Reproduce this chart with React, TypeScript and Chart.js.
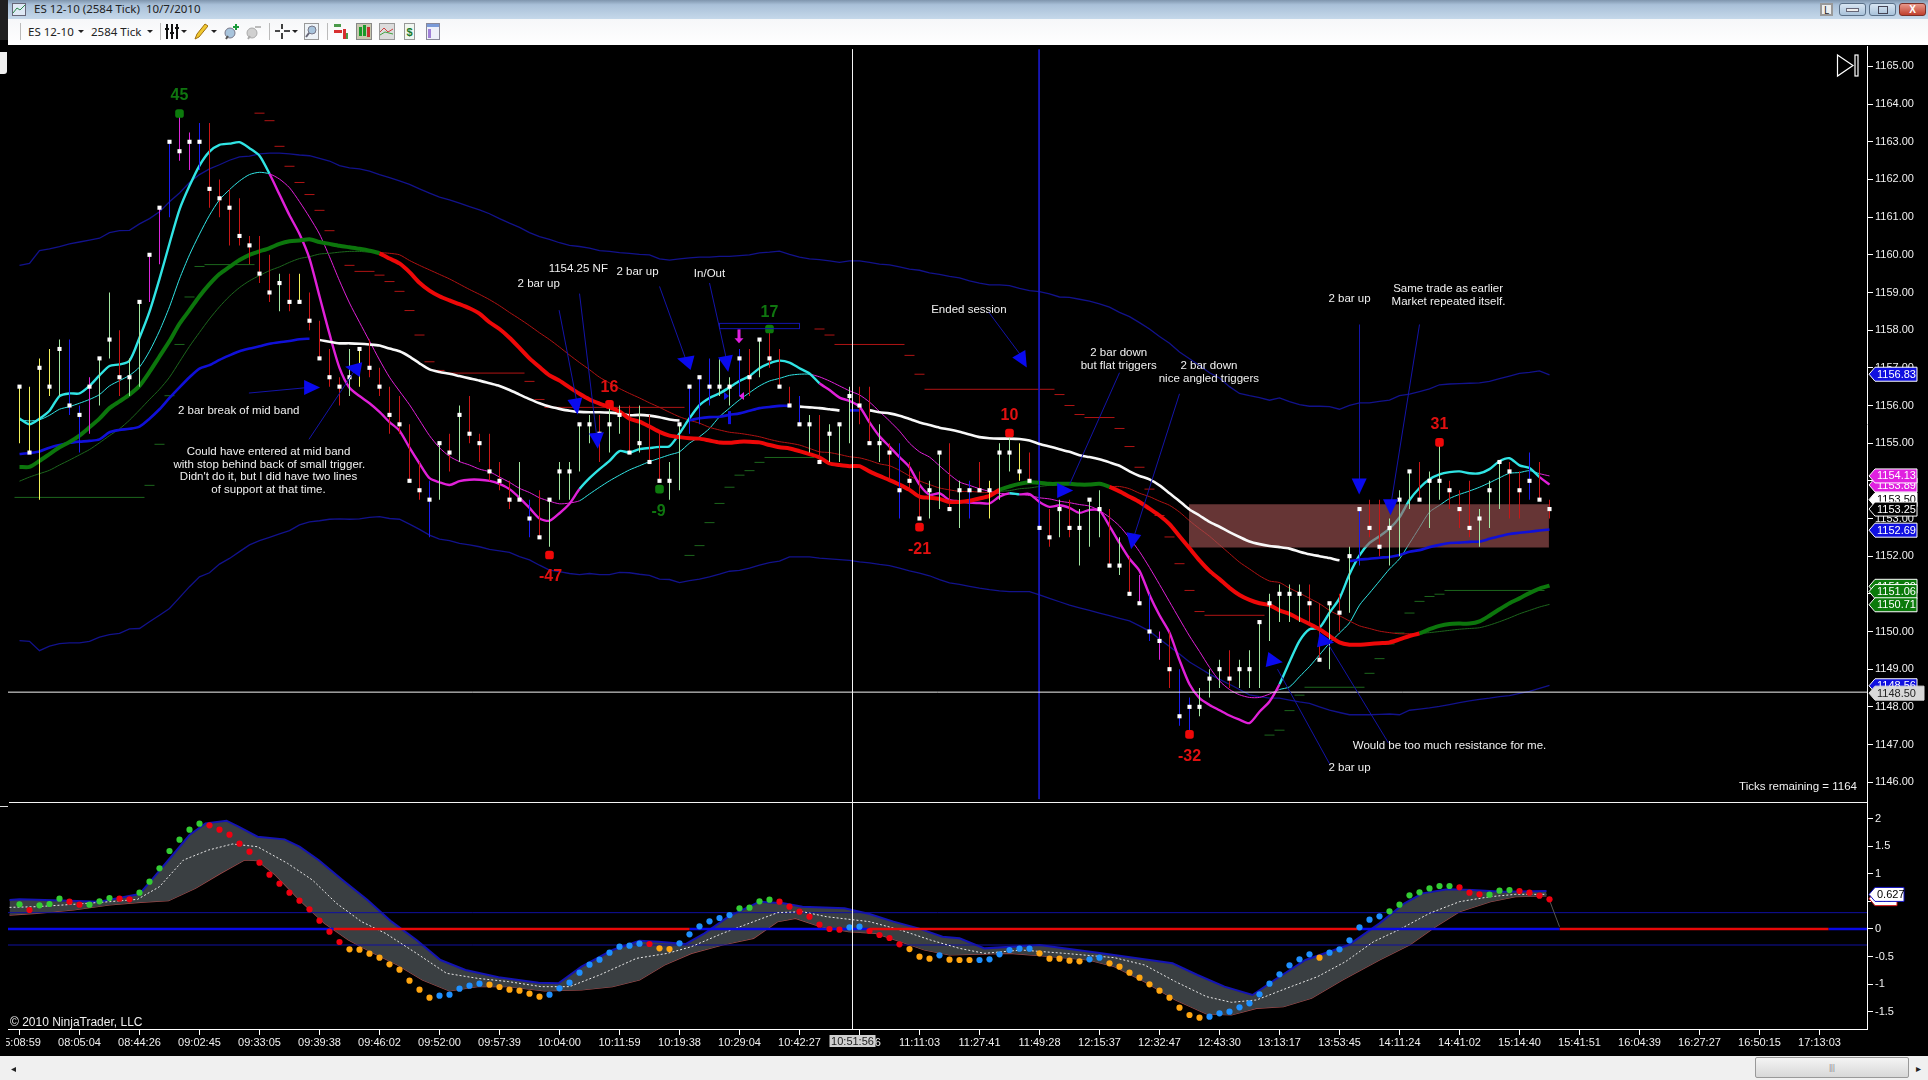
import React, { useEffect, useRef } from "react";
import { Chart, registerables } from "chart.js";

Chart.register(...registerables);

const timeLabels = ["15:08:59","08:05:04","08:44:26","09:02:45","09:33:05","09:39:38","09:46:02","09:52:00","09:57:39","10:04:00","10:11:59","10:19:38","10:29:04","10:42:27","10:51:56","11:11:03","11:27:41","11:49:28","12:15:37","12:32:47","12:43:30","13:13:17","13:53:45","14:11:24","14:41:02","15:14:40","15:41:51","16:04:39","16:27:27","16:50:15","17:13:03"];

const highs = [1156.5,1156.5,1157.25,1157.5,1157.75,1157.75,1156,1156.75,1157.25,1159,1158,1157.25,1158.75,1160,1161.25,1163,1163.75,1163.25,1163.5,1163.5,1162,1161.75,1161.5,1160.5,1160.5,1160,1159.5,1159.5,1159.5,1159,1158.25,1157.5,1156.75,1157.5,1157.5,1157.75,1157,1156.5,1156.25,1155.5,1154.5,1154,1155,1155.25,1156,1156.25,1155.25,1155.25,1154.5,1154,1154.5,1153.5,1153.75,1153.5,1154.5,1154.5,1155.5,1155.75,1155.75,1156,1156,1156,1156,1155.75,1155.25,1154.5,1155.5,1156.5,1156.75,1157.25,1157.25,1156.75,1157.5,1157.5,1157.75,1158,1157.5,1156.5,1156.25,1155.75,1155.75,1155.5,1155.5,1156.5,1156.5,1156.5,1155.5,1155,1155,1154.5,1154.25,1154,1154.75,1155,1154,1154,1154.5,1154,1155,1155.25,1155,1154.75,1154,1153.25,1153.5,1153.5,1153.25,1153.5,1153.75,1153.25,1152.5,1152,1151.5,1151,1150,1150,1149,1148.25,1148.5,1149,1149.25,1149.5,1149.25,1149.5,1150.25,1151,1151.25,1151.25,1151.25,1151.25,1150.75,1150.75,1151,1152.25,1153.25,1153.5,1153.5,1153,1153.75,1154.25,1154.5,1154.25,1155,1154,1153.75,1154,1153.25,1154,1154.5,1154.5,1154.25,1154.75,1154.5,1153.5];
const lows = [1155,1154.75,1153.5,1156.25,1156.25,1155.75,1154.75,1155.25,1156,1157.25,1156.25,1156.25,1156.5,1158.75,1159.75,1161,1162.5,1162.25,1162.25,1161.25,1161,1160.25,1160.25,1159.75,1159.25,1158.75,1158.5,1158.5,1158.75,1158,1157.25,1156.5,1156,1156.25,1156.5,1156.75,1156.25,1155.25,1155.25,1154,1153.5,1152.5,1153.5,1154.25,1154.5,1155,1154.5,1154,1153.75,1153.25,1153.5,1152.5,1152.5,1152.25,1153.5,1153.5,1154.25,1155,1154.5,1154.75,1155.25,1154.75,1154.75,1154.5,1154,1153.5,1153.75,1155.25,1155.5,1156,1156.25,1156,1156.25,1156.25,1156.75,1157,1156.5,1156,1155.5,1154.75,1154.5,1154.5,1154.5,1155,1155.5,1155,1154.5,1154,1153,1153.75,1153,1153,1153.25,1153.25,1152.75,1153,1153.75,1153,1153.5,1154.25,1154,1154,1152.75,1152.25,1152.5,1152.5,1151.75,1152.25,1152.5,1151.75,1151.5,1151,1150.75,1149.75,1149.25,1148.5,1147.5,1147.25,1147.75,1148.25,1148.5,1148.5,1148.5,1148.5,1148.5,1149.75,1150.25,1150.25,1150.25,1150.25,1149.25,1149,1150,1150.5,1151.75,1152.5,1152,1151.75,1152,1153.25,1153.5,1152.75,1153.5,1153.25,1152.75,1152.5,1152.25,1152.75,1153.25,1153,1153,1153.5,1153.5,1153];
const closes = [1156.5,1154.75,1157,1156.5,1157.5,1156,1155.75,1156.5,1157.25,1157.75,1156.75,1156.75,1158.75,1160,1161.25,1163,1162.75,1163,1163,1161.75,1161.5,1161.25,1160.5,1160.25,1159.5,1159,1159.25,1158.75,1158.75,1158.25,1157.25,1156.75,1156.5,1156.75,1157.5,1157,1156.5,1155.75,1155.5,1154,1153.75,1153.5,1155,1154.75,1155.75,1155.25,1155,1154.25,1154,1153.5,1153.5,1153,1152.5,1153.5,1154.25,1154.25,1155.5,1155.5,1155.25,1155.5,1155.75,1154.75,1155,1154.5,1154,1154,1155.5,1156.5,1156.75,1156.5,1156.5,1156.5,1157.25,1156.75,1157.75,1157.25,1156.5,1156,1155.5,1155.5,1154.5,1155.25,1155.5,1156.25,1156,1155,1155,1154.75,1153.75,1154,1153,1153.75,1154.75,1153.25,1153.75,1153.75,1153.75,1153.75,1154.75,1154.75,1154.25,1154,1152.75,1152.5,1153.25,1152.75,1152.75,1153.5,1153.25,1151.75,1151.75,1151,1150.75,1150,1149.75,1149,1147.75,1148,1148,1148.75,1149,1148.75,1149,1149,1150.25,1150.75,1151,1151,1151,1150.75,1149.25,1150.75,1150.5,1152,1153.25,1152.75,1152.25,1152.75,1153.5,1154.25,1153.5,1154,1154,1153.75,1153.25,1152.75,1153,1153.75,1154.5,1154.25,1153.75,1154,1153.5,1153.25];
const wickKinds = ["yyyygbbmgg","rggmmbmmbr","rrrrrrgryr","rrrgyrrrrr","rbgrgrrrrr","gbrgggggrg","grgrrggbbb","ggbrgrrrbg","rgggrrgrbr","rggrgbrygg","yrbrgrgggr","grmbmrbbgg","grgggggggr","rgrgbrrggg","rggrrrgggr","rbrr"].join("");
const wickColors: Record<string, string> = { y: "#f2f25a", g: "#a2e8a2", b: "#1c1cf0", m: "#dc28dc", r: "#c81616" };

const fastLine = [1155.65,1155.5,1155.65,1155.86,1156.25,1156.32,1156.32,1156.52,1156.8,1157.05,1157.09,1157.19,1157.8,1158.49,1159.36,1160.3,1161.2,1161.83,1162.37,1162.74,1162.92,1162.95,1162.99,1162.83,1162.63,1162.15,1161.6,1161.05,1160.55,1159.9,1158.9,1157.9,1157,1156.47,1156.25,1156.06,1155.83,1155.56,1155.33,1154.88,1154.46,1154.07,1153.96,1153.89,1153.99,1154.03,1154.03,1154,1153.92,1153.78,1153.55,1153.28,1153,1152.94,1153.14,1153.39,1153.78,1154.07,1154.31,1154.53,1154.79,1154.75,1154.84,1154.87,1154.9,1154.92,1155.26,1155.66,1156.01,1156.2,1156.32,1156.48,1156.65,1156.78,1156.99,1157.12,1157.19,1157.14,1156.99,1156.85,1156.59,1156.41,1156.21,1156.12,1155.97,1155.55,1155.18,1154.91,1154.63,1154.36,1153.9,1153.63,1153.67,1153.49,1153.46,1153.42,1153.41,1153.4,1153.58,1153.67,1153.64,1153.65,1153.44,1153.31,1153.35,1153.28,1153.15,1153.23,1153.21,1152.8,1152.35,1151.93,1151.61,1150.97,1150.43,1149.97,1149.24,1148.6,1148.23,1148.05,1147.91,1147.77,1147.66,1147.57,1147.87,1148.14,1148.6,1149.19,1149.75,1150.06,1150.1,1150.5,1150.88,1151.52,1152.02,1152.35,1152.53,1152.73,1153.03,1153.49,1153.81,1154.04,1154.17,1154.23,1154.25,1154.2,1154.2,1154.31,1154.52,1154.6,1154.41,1154.34,1154.1,1153.9];
const signalLine = [1155.62,1155.59,1155.62,1155.74,1155.9,1155.97,1156.06,1156.16,1156.29,1156.52,1156.66,1156.8,1157.02,1157.44,1157.98,1158.62,1159.36,1160,1160.55,1161.05,1161.46,1161.73,1161.96,1162.13,1162.19,1162.15,1162.01,1161.78,1161.41,1161,1160.55,1159.95,1159.31,1158.72,1158.21,1157.71,1157.21,1156.75,1156.38,1156.02,1155.61,1155.2,1154.88,1154.65,1154.51,1154.42,1154.31,1154.24,1154.1,1153.96,1153.8,1153.69,1153.55,1153.46,1153.39,1153.41,1153.47,1153.65,1153.83,1154,1154.15,1154.29,1154.4,1154.51,1154.6,1154.69,1154.77,1155,1155.17,1155.39,1155.7,1155.93,1156.15,1156.34,1156.52,1156.65,1156.72,1156.8,1156.83,1156.83,1156.76,1156.65,1156.52,1156.39,1156.28,1156.09,1155.84,1155.59,1155.32,1155,1154.77,1154.63,1154.4,1154.17,1153.97,1153.88,1153.79,1153.72,1153.67,1153.65,1153.64,1153.61,1153.55,1153.52,1153.46,1153.42,1153.37,1153.33,1153.21,1153.03,1152.8,1152.48,1152.12,1151.7,1151.25,1150.79,1150.33,1149.88,1149.47,1149.05,1148.69,1148.46,1148.32,1148.25,1148.25,1148.34,1148.46,1148.53,1148.8,1149.07,1149.38,1149.69,1149.96,1150.23,1150.7,1151.02,1151.34,1151.66,1151.93,1152.34,1152.76,1153.17,1153.35,1153.53,1153.64,1153.73,1153.83,1153.95,1154.08,1154.2,1154.22,1154.27,1154.19,1154.13];
const midLine = [1154.71,1154.74,1154.78,1154.88,1154.95,1155.01,1155.04,1155.06,1155.1,1155.29,1155.35,1155.38,1155.44,1155.65,1155.9,1156.2,1156.48,1156.75,1156.98,1157.07,1157.21,1157.33,1157.44,1157.51,1157.57,1157.64,1157.68,1157.71,1157.76,1157.77,1157.74,1157.69,1157.65,1157.65,1157.64,1157.62,1157.59,1157.51,1157.44,1157.3,1157.12,1156.96,1156.89,1156.84,1156.78,1156.72,1156.66,1156.59,1156.52,1156.41,1156.29,1156.17,1156.06,1155.97,1155.91,1155.86,1155.83,1155.82,1155.82,1155.81,1155.79,1155.74,1155.75,1155.73,1155.69,1155.63,1155.6,1155.61,1155.66,1155.69,1155.7,1155.75,1155.79,1155.86,1155.93,1155.96,1155.99,1155.99,1155.97,1155.95,1155.93,1155.9,1155.87,1155.87,1155.87,1155.87,1155.82,1155.79,1155.73,1155.64,1155.55,1155.48,1155.41,1155.36,1155.3,1155.23,1155.16,1155.13,1155.12,1155.12,1155.11,1155.07,1154.98,1154.91,1154.84,1154.77,1154.68,1154.63,1154.57,1154.49,1154.4,1154.25,1154.13,1154.04,1153.88,1153.67,1153.46,1153.24,1153.08,1152.91,1152.78,1152.64,1152.51,1152.39,1152.32,1152.27,1152.24,1152.2,1152.12,1152.05,1152,1151.95,1151.89,1151.87,1151.91,1151.93,1151.96,1151.98,1152.03,1152.12,1152.16,1152.24,1152.3,1152.35,1152.36,1152.38,1152.39,1152.46,1152.53,1152.59,1152.62,1152.65,1152.68,1152.71];
const slowLine = [1154.37,1154.37,1154.53,1154.71,1154.89,1155.03,1155.2,1155.42,1155.65,1155.93,1156.11,1156.29,1156.52,1156.89,1157.3,1157.71,1158.17,1158.53,1158.9,1159.22,1159.49,1159.68,1159.86,1160,1160.09,1160.18,1160.29,1160.36,1160.38,1160.41,1160.34,1160.29,1160.24,1160.2,1160.16,1160.11,1160.04,1159.9,1159.77,1159.54,1159.26,1159.05,1158.9,1158.79,1158.69,1158.58,1158.44,1158.21,1158.03,1157.8,1157.53,1157.25,1157.02,1156.8,1156.66,1156.48,1156.31,1156.16,1156.05,1155.95,1155.84,1155.65,1155.57,1155.44,1155.3,1155.2,1155.16,1155.13,1155.12,1155.07,1155.02,1155.01,1155.04,1155.04,1155.02,1154.95,1154.89,1154.86,1154.79,1154.71,1154.62,1154.46,1154.42,1154.39,1154.39,1154.25,1154.13,1154.02,1153.9,1153.76,1153.58,1153.55,1153.52,1153.44,1153.44,1153.47,1153.53,1153.6,1153.76,1153.85,1153.92,1153.96,1153.95,1153.92,1153.92,1153.92,1153.9,1153.9,1153.92,1153.84,1153.72,1153.58,1153.44,1153.26,1153.08,1152.85,1152.53,1152.21,1151.89,1151.61,1151.39,1151.16,1150.97,1150.84,1150.75,1150.7,1150.56,1150.47,1150.33,1150.2,1150.06,1149.88,1149.71,1149.65,1149.65,1149.67,1149.69,1149.71,1149.79,1149.88,1149.95,1150.06,1150.15,1150.2,1150.21,1150.21,1150.27,1150.42,1150.59,1150.75,1150.88,1151.02,1151.14,1151.22];
const slowThinLine = [1153.99,1154.1,1154.19,1154.28,1154.42,1154.55,1154.69,1154.83,1155.01,1155.2,1155.38,1155.61,1155.88,1156.16,1156.43,1156.75,1157.16,1157.57,1157.94,1158.3,1158.62,1158.9,1159.13,1159.31,1159.45,1159.58,1159.68,1159.8,1159.9,1159.95,1160.02,1160.04,1160.07,1160.09,1160.09,1160.07,1160.06,1160.04,1160,1159.85,1159.72,1159.6,1159.48,1159.36,1159.22,1159.08,1158.95,1158.81,1158.65,1158.47,1158.3,1158.12,1157.93,1157.75,1157.55,1157.34,1157.14,1156.95,1156.75,1156.6,1156.45,1156.32,1156.2,1156.07,1155.95,1155.82,1155.7,1155.61,1155.53,1155.42,1155.35,1155.29,1155.26,1155.22,1155.17,1155.1,1155.04,1155,1154.95,1154.86,1154.77,1154.75,1154.7,1154.64,1154.61,1154.54,1154.45,1154.4,1154.28,1154.13,1154,1153.9,1153.81,1153.76,1153.72,1153.72,1153.7,1153.69,1153.72,1153.74,1153.79,1153.81,1153.85,1153.88,1153.9,1153.92,1153.93,1153.93,1153.92,1153.85,1153.85,1153.79,1153.67,1153.58,1153.46,1153.35,1153.17,1152.94,1152.73,1152.53,1152.3,1152.07,1151.84,1151.66,1151.48,1151.34,1151.3,1151.15,1151.02,1150.88,1150.74,1150.56,1150.42,1150.28,1150.15,1150.08,1150.01,1149.97,1149.94,1149.94,1149.95,1149.97,1150,1150.03,1150.06,1150.08,1150.1,1150.17,1150.26,1150.36,1150.47,1150.56,1150.65,1150.72];
const upperBand = [1159.72,1159.77,1160.11,1160.16,1160.22,1160.29,1160.34,1160.39,1160.44,1160.59,1160.64,1160.65,1160.82,1160.96,1161.14,1161.41,1161.64,1161.92,1162.13,1162.28,1162.39,1162.51,1162.6,1162.62,1162.68,1162.7,1162.7,1162.68,1162.65,1162.63,1162.56,1162.49,1162.37,1162.31,1162.28,1162.22,1162.13,1162.05,1161.96,1161.87,1161.75,1161.64,1161.53,1161.46,1161.37,1161.28,1161.19,1161.09,1160.96,1160.84,1160.73,1160.59,1160.48,1160.41,1160.32,1160.25,1160.22,1160.18,1160.11,1160.09,1160.06,1160.04,1160.01,1160,1159.89,1159.86,1159.89,1159.92,1159.94,1159.94,1159.96,1159.96,1159.98,1160,1160.05,1160.07,1160.1,1160.01,1159.94,1159.89,1159.87,1159.84,1159.8,1159.84,1159.84,1159.8,1159.75,1159.73,1159.68,1159.62,1159.59,1159.52,1159.48,1159.43,1159.39,1159.31,1159.25,1159.2,1159.2,1159.18,1159.11,1159.05,1159.02,1158.96,1158.88,1158.87,1158.82,1158.77,1158.7,1158.61,1158.47,1158.36,1158.2,1158.03,1157.83,1157.65,1157.42,1157.24,1157.06,1156.87,1156.73,1156.5,1156.32,1156.26,1156.21,1156.14,1156.2,1156.1,1156.02,1155.98,1155.98,1155.97,1155.9,1156,1156.07,1156.07,1156.11,1156.14,1156.26,1156.3,1156.37,1156.44,1156.55,1156.57,1156.58,1156.59,1156.6,1156.64,1156.71,1156.78,1156.85,1156.88,1156.92,1156.81];
const lowerBand = [1149.76,1149.74,1149.49,1149.61,1149.68,1149.7,1149.7,1149.74,1149.85,1149.92,1149.95,1150.07,1150.08,1150.26,1150.43,1150.61,1150.9,1151.19,1151.45,1151.56,1151.79,1151.94,1152.12,1152.3,1152.41,1152.5,1152.59,1152.68,1152.83,1152.91,1152.94,1152.98,1152.99,1152.98,1152.99,1153.03,1153.05,1153,1152.98,1152.85,1152.71,1152.56,1152.45,1152.41,1152.34,1152.3,1152.25,1152.18,1152.14,1152.1,1151.99,1151.9,1151.76,1151.63,1151.59,1151.54,1151.51,1151.54,1151.51,1151.51,1151.57,1151.56,1151.52,1151.49,1151.39,1151.38,1151.3,1151.35,1151.39,1151.45,1151.52,1151.6,1151.62,1151.68,1151.76,1151.83,1151.87,1151.98,1151.98,1151.98,1151.95,1151.93,1151.91,1151.89,1151.85,1151.82,1151.78,1151.75,1151.68,1151.61,1151.55,1151.48,1151.38,1151.29,1151.25,1151.2,1151.15,1151.11,1151.08,1151.06,1151.06,1151.06,1150.97,1150.88,1150.79,1150.7,1150.63,1150.56,1150.49,1150.42,1150.35,1150.28,1150.15,1150.01,1149.8,1149.6,1149.4,1149.19,1149.03,1148.87,1148.73,1148.6,1148.46,1148.32,1148.27,1148.23,1148.23,1148.18,1148.13,1148.09,1148,1147.91,1147.85,1147.79,1147.79,1147.79,1147.8,1147.81,1147.79,1147.91,1147.94,1147.97,1148.01,1148.06,1148.11,1148.16,1148.2,1148.23,1148.27,1148.3,1148.36,1148.41,1148.49,1148.57];

const redDashes = [[23.5,24.5,1163.76],[24.5,25.5,1163.56],[25.5,26.5,1162.88],[26.5,27.5,1162.35],[27.5,28.5,1161.92],[28.5,29.5,1161.6],[29.5,30.5,1161.18],[30.5,31.5,1160.64],[32.5,33.5,1159.72],[33.5,35.5,1159.56],[35.5,36.5,1159.46],[36.5,37.5,1159.29],[37.5,38.5,1159.03],[38.5,39.5,1158.52],[39.5,40.5,1157.87],[40.5,41.5,1157.16],[41.5,42.5,1156.93],[42.5,50.5,1156.86],[50.5,51.5,1156.64],[51.5,52.5,1156.16],[52.5,66.5,1155.95],[79.5,80.5,1158.03],[80.5,81.5,1157.87],[81.5,88.5,1157.62],[88.5,89.5,1157.33],[89.5,90.5,1156.83],[90.5,103.5,1156.43],[103.5,104.5,1156.29],[104.5,105.5,1156],[105.5,106.5,1155.76],[106.5,109.5,1155.68],[109.5,110.5,1155.39],[110.5,111.5,1154.91],[111.5,112.5,1154.36],[112.5,113.5,1153.78],[113.5,114.5,1153.08],[114.5,115.5,1152.51],[115.5,116.5,1151.8],[116.5,117.5,1151.09],[117.5,118.5,1150.53],[118.5,124.5,1150.43]];
const greenDashes = [[-0.5,12.5,1153.56],[12.5,13.5,1153.88],[13.5,14.5,1154.97],[14.5,15.5,1156.26],[15.5,16.5,1157.62],[16.5,17.5,1158.88],[17.5,18.5,1159.69],[18.5,23.5,1159.74],[66.5,67.5,1152.02],[67.5,68.5,1152.28],[68.5,69.5,1152.89],[69.5,70.5,1153.4],[70.5,71.5,1153.83],[71.5,72.5,1154.15],[72.5,73.5,1154.27],[73.5,74.5,1154.49],[74.5,79.5,1154.62],[124.5,125.5,1147.25],[125.5,126.5,1147.38],[126.5,127.5,1147.9],[127.5,128.5,1148.31],[128.5,134.5,1148.52],[134.5,135.5,1148.89],[135.5,136.5,1149.28],[136.5,137.5,1149.67],[137.5,138.5,1149.96],[138.5,139.5,1150.49],[139.5,140.5,1150.8],[140.5,141.5,1150.93],[141.5,142.5,1150.99],[142.5,152.5,1151.09]];

const greenPivots = [[16,1163.75],[64,1153.78],[75,1158.03]];
const redPivots = [[53,1152.03],[59,1156.03],[90,1152.77],[99,1155.27],[117,1147.27],[142,1155.02]];
const pivotLabels: [string, number, number, string][] = [["45",16,1164.25,"#0f760f"],["-9",63.9,1153.2,"#0f760f"],["17",75,1158.5,"#0f760f"],["-47",53.1,1151.48,"#e01010"],["16",59,1156.5,"#e01010"],["10",99,1155.75,"#e01010"],["-21",90,1152.2,"#e01010"],["-32",117,1146.7,"#e01010"],["31",142,1155.52,"#e01010"]];

const notes: [string, number, number][] = [
  ["2 bar break of mid band",21.92,1155.88],["Could have entered at mid band",24.9,1154.78],["with stop behind back of small trigger.",24.98,1154.44],["Didn't do it, but I did have two lines",24.9,1154.12],["of support at that time.",24.9,1153.78],
  ["1154.25 NF",55.88,1159.65],["2 bar up",51.92,1159.25],["2 bar up",61.8,1159.56],["In/Out",69,1159.52],["Ended session",94.94,1158.56],
  ["2 bar down",109.92,1157.41],["but flat triggers",109.92,1157.06],["2 bar down",118.94,1157.06],["nice angled triggers",118.94,1156.72],
  ["2 bar up",133,1158.84],["Same trade as earlier",142.86,1159.11],["Market repeated itself.",142.9,1158.77],["Would be too much resistance for me.",143,1146.98],["2 bar up",133,1146.39],
];
// from bar, from price, to bar, to price, head bar, head price, head direction in degrees
const arrows = [
  [22.94,1156.33,29,1156.48,29.26,1156.48,0],[28.94,1155.1,33.7,1157,33.35,1156.99,190],[53.96,1158.53,55.8,1156,55.67,1155.97,80],[56,1158.97,57.8,1155,57.76,1155.06,85],
  [64,1159.16,66.8,1157.1,66.53,1157.19,195],[69,1159.25,70.8,1157.1,70.73,1157.1,80],[96.94,1158.47,100.5,1157.2,100.33,1157.19,60],[110,1156.87,105,1153.9,104.57,1153.74,0],
  [116,1156.31,111.3,1152.4,111.3,1152.39,100],[134,1158.15,134,1153.85,133.97,1153.85,90],[140,1158.15,137.1,1153.3,137.1,1153.3,90],[136.9,1147.04,130.7,1149.74,130.67,1149.74,10],[131,1146.49,125.8,1149,125.54,1149.22,10],
];
const zoneBounds = { from: 116.94, to: 152.94, top: 1153.38, bottom: 1152.23 };
const cursorBar = 83.3;
const cursorPrice = 1148.39;
const sessionBar = 101.96;
const priceTags: [string, string, string][] = [["1156.83","#1010e0","#fff"],["1153.89","#e020e0","#fff"],["1154.13","#e020e0","#fff"],["1153.50","#fff","#000"],["1153.25","#000","#fff"],["1152.69","#1010e0","#fff"],["1151.20","#0b7a0b","#fff"],["1151.06","#0b7a0b","#fff"],["1150.71","#0b7a0b","#fff"],["1148.56","#1010e0","#fff"]];

const oscDots = [0.447,0.344,0.429,0.453,0.549,0.495,0.441,0.441,0.501,0.561,0.549,0.537,0.658,0.857,1.099,1.413,1.618,1.799,1.908,1.878,1.799,1.709,1.546,1.401,1.202,0.984,0.821,0.658,0.513,0.356,0.151,-0.049,-0.236,-0.369,-0.375,-0.447,-0.52,-0.64,-0.737,-0.936,-1.099,-1.244,-1.208,-1.19,-1.081,-1.027,-0.991,-1.009,-1.051,-1.099,-1.118,-1.172,-1.226,-1.19,-1.075,-0.973,-0.791,-0.646,-0.556,-0.429,-0.32,-0.302,-0.266,-0.272,-0.351,-0.363,-0.26,-0.097,0.048,0.139,0.199,0.253,0.374,0.386,0.501,0.531,0.495,0.404,0.314,0.223,0.078,0,-0.012,0.03,0.042,-0.036,-0.109,-0.163,-0.278,-0.363,-0.502,-0.538,-0.477,-0.556,-0.562,-0.562,-0.562,-0.55,-0.459,-0.381,-0.357,-0.357,-0.441,-0.538,-0.538,-0.574,-0.586,-0.55,-0.52,-0.622,-0.683,-0.791,-0.882,-1.003,-1.118,-1.244,-1.425,-1.558,-1.607,-1.589,-1.528,-1.498,-1.419,-1.347,-1.184,-0.991,-0.822,-0.659,-0.55,-0.459,-0.52,-0.429,-0.369,-0.206,0.03,0.169,0.229,0.32,0.441,0.61,0.664,0.736,0.779,0.779,0.755,0.658,0.628,0.622,0.694,0.706,0.688,0.658,0.604,0.537];
const oscKinds = ["GRGGGRRGGG","RRGGGGGGGR","RRRRRRRRRR","RRROOOOOOO","OOBBBBBOOO","OOOBBBBBBB","BBBROOBBBB","BBGGGGRRRR","RRRBBRRRRO","OOBOOOBBBB","BBOOOOOBBO","OOOOOOOOOB","BBBBBBBBBB","OBBBBBBGGG","GGGGRRRGGG","RRRR"].join("");
const oscColors: Record<string, string> = { G: "#33cc33", R: "#f00010", O: "#ffa510", B: "#1e90ff" };
const oscUpper = [[-1,0.525],[0,0.537],[5,0.513],[8,0.495],[12,0.634],[13.35,0.918],[14.9,1.25],[17,1.703],[18.6,1.914],[20.7,1.962],[21.9,1.854],[23.8,1.673],[26.5,1.624],[28,1.491],[29.9,1.25],[32.3,0.887],[34.8,0.525],[37.2,0.133],[39.7,-0.2],[42.1,-0.562],[44.6,-0.743],[47.9,-0.876],[51.9,-0.973],[53.9,-0.985],[56.2,-0.683],[59.3,-0.381],[62,-0.212],[63.9,-0.23],[66.6,-0.272],[68.5,-0.079],[70.9,0.223],[74,0.495],[76.4,0.465],[78.3,0.404],[82.5,0.374],[85,0.272],[87.4,0.133],[89.9,0.012],[92.3,-0.139],[94,-0.169],[96.5,-0.351],[102,-0.29],[108.2,-0.441],[115.3,-0.622],[117.8,-0.834],[120.5,-1.045],[123.3,-1.196],[125.5,-0.924],[128.6,-0.562],[132.9,-0.29],[136,0.102],[138.5,0.465],[140.3,0.646],[142.8,0.718],[145.3,0.706],[148.3,0.676],[152.7,0.688]];
const oscLower = [[-1,0.253],[1.7,0.284],[5.4,0.344],[9,0.435],[12.1,0.483],[14.9,0.513],[17.6,0.737],[20.1,1.008],[22.5,1.25],[23.8,1.238],[25.6,0.978],[28,0.525],[30.5,0.102],[32.9,-0.2],[35.4,-0.441],[37.8,-0.652],[40.3,-0.924],[43,-1.123],[45.8,-1.045],[48.9,-1.045],[52.5,-1.123],[56.2,-1.105],[59.3,-1.045],[62,-0.924],[64.5,-0.652],[67.2,-0.441],[70.3,-0.29],[73.4,-0.169],[75.8,0.133],[77.6,0.193],[80.1,0.042],[82.9,-0.049],[85.6,-0.079],[88.1,-0.23],[90.5,-0.381],[93,-0.471],[99,-0.441],[102,-0.483],[106.9,-0.562],[109.5,-0.683],[112.5,-0.954],[115.6,-1.286],[118.7,-1.54],[121.2,-1.558],[123.7,-1.438],[126.4,-1.407],[129.2,-1.256],[132.3,-0.924],[136,-0.562],[139,-0.29],[141.6,0.042],[144,0.314],[147.1,0.495],[149.6,0.586],[152.7,0.598]];
const oscMiddle = [[-1,0.392],[1.7,0.404],[5.4,0.447],[9,0.495],[11.8,0.537],[14,0.767],[16.4,1.25],[18.9,1.431],[21.3,1.54],[23.8,1.491],[26.8,1.19],[29.3,0.887],[31.7,0.465],[34.2,0.133],[36.6,-0.079],[39.7,-0.441],[42.7,-0.803],[45.8,-0.894],[48.9,-0.954],[52.2,-1.045],[55,-1.045],[58,-0.834],[61.7,-0.532],[64.8,-0.441],[67.2,-0.32],[70.3,-0.079],[73.4,0.133],[75.8,0.296],[78.3,0.314],[80.7,0.223],[85,0.133],[88.1,-0.018],[91.1,-0.2],[94,-0.351],[96.5,-0.441],[100.2,-0.381],[104.5,-0.441],[109.5,-0.52],[112.5,-0.652],[115.6,-0.954],[118.7,-1.226],[121.2,-1.329],[123.7,-1.286],[126.7,-1.075],[129.8,-0.864],[132.6,-0.592],[135.4,-0.23],[137.9,-0.018],[141,0.284],[144,0.495],[147.1,0.586],[149.6,0.628],[152.7,0.628]];
const oscLevels = [0.296,-0.29];
const oscTail = [[153,0.52],[154,0.04]];
const zeroRuns: [number, number, string][] = [[-1.15,31.4,"#0808e8"],[31.4,67,"#e80808"],[67,85,"#0808e8"],[85,133.8,"#e80808"],[133.8,154,"#0808e8"],[154,180.9,"#e80808"],[180.9,184.75,"#0808e8"]];

const CYAN = "#30e4e4", MAGENTA = "#e020d8", BLUE = "#1010d8", WHITE = "#f8f8f8", GREEN = "#0c760c", RED = "#ee0808", NONE = "rgba(0,0,0,0)";
type Run = [number, number, string];
const fastRuns: Run[] = [[0,25,CYAN],[25,56,MAGENTA],[56,80,CYAN],[80,99,MAGENTA],[99,100,CYAN],[100,126,MAGENTA],[126,152,CYAN],[152,153,MAGENTA]];
const signalRuns: Run[] = [[0,25,CYAN],[25,56,MAGENTA],[56,79,CYAN],[79,126,MAGENTA],[126,152,CYAN],[152,153,MAGENTA]];
const midRuns: Run[] = [[0,29,BLUE],[29,30,NONE],[30,66,WHITE],[66,67,NONE],[67,77,BLUE],[77,78,NONE],[78,82,WHITE],[82,83,NONE],[83,84,BLUE],[84,85,NONE],[85,132,WHITE],[132,133,NONE],[133,153,BLUE]];
const slowRuns: Run[] = [[0,36,GREEN],[36,98,RED],[98,109,GREEN],[109,140,RED],[140,153,GREEN]];
const slowThinRuns: Run[] = [[0,36,"#1c661c"],[36,98,"#b01212"],[98,109,"#1c661c"],[109,140,"#b01212"],[140,153,"#1c661c"]];

const FONT = '"Liberation Sans", Arial, sans-serif';
const fixAxis = (w: number | null, h: number | null) => (s: any) => {
  if (w !== null) s.width = w;
  if (h !== null) s.height = h;
  s.paddingTop = s.paddingBottom = s.paddingLeft = s.paddingRight = 0;
};
const series = (vals: number[]) => vals.map((y, x) => ({ x, y }));
const pairs = (vals: number[][]) => vals.map(([x, y]) => ({ x, y }));
const runLine = (vals: number[], runs: Run[], width: number, order: number) => ({
  type: "line", data: series(vals), borderWidth: width, pointRadius: 0, order, borderColor: runs[0][2], tension: 0.25, borderCapStyle: "butt",
  segment: { borderColor: (c: any) => { const x = c.p0.parsed.x; const r = runs.find(q => x >= q[0] && x < q[1]); return r ? r[2] : NONE; } },
});
const dashLine = (d: number[][], color: string, order: number) => ({
  type: "line", borderColor: color, borderWidth: 1, pointRadius: 0, order, spanGaps: false,
  data: d.flatMap(([a, b, y]) => [{ x: a, y }, { x: b, y }, { x: b, y: null }]),
});
const plain = (data: any[], color: string, width: number, order: number, extra: any = {}) => ({ type: "line", data, borderColor: color, borderWidth: width, pointRadius: 0, order, tension: 0, ...extra });
const tri = (ctx: CanvasRenderingContext2D, x: number, y: number, deg: number, len: number, wide: number, color: string) => {
  ctx.save(); ctx.translate(x, y); ctx.rotate(deg * Math.PI / 180); ctx.fillStyle = color; ctx.beginPath();
  ctx.moveTo(len / 2, 0); ctx.lineTo(-len / 2, -wide / 2); ctx.lineTo(-len / 2, wide / 2); ctx.closePath(); ctx.fill(); ctx.restore();
};
const tag = (ctx: CanvasRenderingContext2D, y: number, text: string, bg: string, fg: string, right = 1917, edge = "#fff") => {
  ctx.beginPath(); ctx.moveTo(1869, y); ctx.lineTo(1875, y - 7); ctx.lineTo(right, y - 7); ctx.lineTo(right, y + 7); ctx.lineTo(1875, y + 7); ctx.closePath();
  ctx.fillStyle = bg; ctx.fill(); ctx.strokeStyle = edge; ctx.lineWidth = 1; ctx.stroke();
  ctx.fillStyle = fg; ctx.font = `11px ${FONT}`; ctx.textAlign = "left"; ctx.textBaseline = "middle"; ctx.fillText(text, 1877, y + 0.5);
};

const priceOverlay = {
  id: "priceOverlay",
  afterDraw(chart: any) {
    const { ctx, scales: { x, y } } = chart;
    ctx.save();
    ctx.textAlign = "center"; ctx.textBaseline = "middle";
    ctx.font = `11.5px ${FONT}`; ctx.fillStyle = "#f0f0f0";
    notes.forEach(([t, i, p]) => ctx.fillText(t, x.getPixelForValue(i), y.getPixelForValue(p) + 0.5));
    ctx.font = `bold 16px ${FONT}`;
    pivotLabels.forEach(([t, i, p, c]) => { ctx.fillStyle = c; ctx.fillText(t, x.getPixelForValue(i), y.getPixelForValue(p) + 1); });
    arrows.forEach(([a, b, c, d, e, f, deg]) => {
      ctx.strokeStyle = "#1414a8"; ctx.lineWidth = 1; ctx.beginPath();
      ctx.moveTo(x.getPixelForValue(a), y.getPixelForValue(b)); ctx.lineTo(x.getPixelForValue(c), y.getPixelForValue(d)); ctx.stroke();
      tri(ctx, x.getPixelForValue(e), y.getPixelForValue(f), deg, 16, 15, "#0a0aee");
    });
    // small trade markers
    ctx.strokeStyle = "#1414b0"; ctx.lineWidth = 1;
    const rx = x.getPixelForValue(70), ry = y.getPixelForValue(1158.18);
    ctx.strokeRect(rx, ry, x.getPixelForValue(78) - rx, y.getPixelForValue(1158.04) - ry);
    tri(ctx, x.getPixelForValue(70.7), y.getPixelForValue(1156.25), 0, 5, 8, "#1010e0");
    tri(ctx, x.getPixelForValue(72.2), y.getPixelForValue(1156.25), 180, 5, 8, "#e020e0");
    tri(ctx, x.getPixelForValue(71.95), y.getPixelForValue(1157.72), 90, 5, 9, "#e020e0");
    ctx.fillStyle = "#e020e0"; ctx.fillRect(x.getPixelForValue(71.95) - 1.5, y.getPixelForValue(1158.02), 3, 10);
    ctx.fillStyle = "#1010e0"; ctx.fillRect(x.getPixelForValue(71) - 1.5, y.getPixelForValue(1155.85), 3, 13);
    // replay icon
    ctx.strokeStyle = "#fff"; ctx.lineWidth = 1.2; ctx.beginPath(); ctx.moveTo(1837.5, 9); ctx.lineTo(1853, 19.5); ctx.lineTo(1837.5, 30); ctx.closePath(); ctx.stroke();
    ctx.strokeRect(1855, 9, 3, 21);
    ctx.font = `11.5px ${FONT}`; ctx.fillStyle = "#f0f0f0"; ctx.textAlign = "right"; ctx.fillText("Ticks remaining = 1164", 1857, 741);
    priceTags.forEach(([t, bg, fg]) => tag(ctx, y.getPixelForValue(Number(t)), t, bg, fg));
    tag(ctx, y.getPixelForValue(cursorPrice) + 1, "1148.50", "#d8d8d8", "#222", 1924, "#d8d8d8");
    ctx.restore();
  },
};
const oscOverlay = {
  id: "oscOverlay",
  afterDraw(chart: any) {
    const { ctx, scales: { x, y } } = chart;
    ctx.save();
    ctx.font = `12px ${FONT}`; ctx.fillStyle = "#eee"; ctx.textAlign = "left"; ctx.textBaseline = "middle";
    ctx.fillText("\u00a9 2010 NinjaTrader, LLC", 10, 220);
    const cx = x.getPixelForValue(cursorBar);
    ctx.fillStyle = "#cfcfcf"; ctx.fillRect(cx - 23, 232, 46, 12);
    ctx.font = `11px ${FONT}`; ctx.fillStyle = "#222"; ctx.textAlign = "center"; ctx.fillText("10:51:56", cx, 238.5);
    tag(ctx, y.getPixelForValue(0.55), "0.5", "#fff", "#000", 1897, "#d01010");
    tag(ctx, y.getPixelForValue(0.627), "0.627", "#fff", "#000", 1904, "#1010c0");
    ctx.restore();
  },
};

export default function App() {
  const topRef = useRef<HTMLCanvasElement>(null);
  const botRef = useRef<HTMLCanvasElement>(null);
  useEffect(() => {
    Chart.defaults.font.family = FONT;
    const top = new Chart(topRef.current as any, {
      type: "bar",
      plugins: [priceOverlay],
      data: {
        datasets: [
          { type: "line", data: [{ x: zoneBounds.from, y: zoneBounds.top }, { x: zoneBounds.to, y: zoneBounds.top }], fill: { value: zoneBounds.bottom }, backgroundColor: "rgba(165,85,85,0.62)", borderWidth: 0, pointRadius: 0, order: 5 },
          { type: "bar", data: highs.map((h, i) => ({ x: i, y: [lows[i], h] })), backgroundColor: [...wickKinds].map(k => wickColors[k]), barThickness: 1, inflateAmount: 0, grouped: false, borderWidth: 0, order: 2 },
          { type: "line", data: series(closes), showLine: false, pointStyle: "rect", pointRadius: 2.9, pointBackgroundColor: "#fff", pointBorderWidth: 0, order: 1 },
          { type: "line", data: pairs(greenPivots), showLine: false, pointStyle: "rectRounded", pointRadius: 5, pointBackgroundColor: "#0c7a0c", pointBorderWidth: 0, order: 1 },
          { type: "line", data: pairs(redPivots), showLine: false, pointStyle: "rectRounded", pointRadius: 5, pointBackgroundColor: "#f00808", pointBorderWidth: 0, order: 1 },
          plain(series(upperBand), "#12128c", 1.3, 12),
          plain(series(lowerBand), "#12128c", 1.3, 12),
          dashLine(redDashes, "#b01414", 11),
          dashLine(greenDashes, "#1c661c", 11),
          runLine(slowThinLine, slowThinRuns, 1, 10),
          runLine(signalLine, signalRuns, 1, 10),
          runLine(slowLine, slowRuns, 4, 4),
          runLine(midLine, midRuns, 2.6, 4),
          runLine(fastLine, fastRuns, 2.4, 7),
          plain([{ x: sessionBar, y: 1165.45 }, { x: sessionBar, y: 1145.55 }], "#1a1ac0", 1, 9),
          plain([{ x: cursorBar, y: 1165.45 }, { x: cursorBar, y: 1145.474 }], "#f4f4f4", 1, 0),
          plain([{ x: -1.15, y: cursorPrice }, { x: 184.75, y: cursorPrice }], "#f4f4f4", 1, 0),
        ] as any,
      },
      options: {
        responsive: false, animation: false, events: [],
        layout: { autoPadding: false, padding: { left: 8, top: 0, right: 0, bottom: 1 } },
        plugins: { legend: { display: false }, tooltip: { enabled: false } },
        scales: {
          x: { type: "linear", min: -1.15, max: 184.75, display: false, offset: false, grid: { offset: false } },
          y: {
            position: "right", min: 1145.474, max: 1165.543, afterFit: fixAxis(61, null),
            grid: { drawOnChartArea: false, color: "#fff", tickLength: 6, tickColor: "#fff" }, border: { color: "#fff", width: 1 },
            ticks: { stepSize: 1, includeBounds: false, autoSkip: false, color: "#f0f0f0", font: { size: 11 }, padding: 2, callback: (v: any) => Number(v).toFixed(2) },
          },
        },
      } as any,
    });
    const bot = new Chart(botRef.current as any, {
      type: "bar",
      plugins: [oscOverlay],
      data: {
        datasets: [
          plain(pairs(oscUpper), "#1414b4", 2, 9, { fill: 1, backgroundColor: "#3a3f42" }),
          plain(pairs(oscLower), "#a84a4a", 1.2, 9),
          plain(pairs(oscMiddle), "#e8e8e8", 1, 7, { borderDash: [2, 2] }),
          ...oscLevels.map(v => plain([{ x: -1.15, y: v }, { x: 184.75, y: v }], "#1010a0", 1, 8)),
          ...zeroRuns.map(([a, b, c]) => plain([{ x: a, y: 0 }, { x: b, y: 0 }], c, 2.4, 6)),
          plain(pairs(oscTail), "#555", 1, 6),
          { type: "line", data: series(oscDots), showLine: false, pointRadius: 3.1, pointBorderWidth: 0, pointBackgroundColor: [...oscKinds].map(k => oscColors[k]), order: 1 },
          plain([{ x: cursorBar, y: 2.283 }, { x: cursorBar, y: -1.812 }], "#f4f4f4", 1, 0),
        ] as any,
      },
      options: {
        responsive: false, animation: false, events: [],
        layout: { autoPadding: false, padding: { left: 8, top: 0, right: 0, bottom: 0 } },
        plugins: { legend: { display: false }, tooltip: { enabled: false } },
        scales: {
          x: {
            type: "linear", min: -1.15, max: 184.75, offset: false, afterFit: fixAxis(null, 27),
            grid: { offset: false, drawOnChartArea: false, color: "#fff", tickLength: 6, tickColor: "#fff" }, border: { color: "#fff", width: 1 },
            ticks: { stepSize: 6, includeBounds: false, autoSkip: false, maxRotation: 0, minRotation: 0, color: "#f0f0f0", font: { size: 11 }, padding: 1, callback: (v: any) => timeLabels[Math.round(Number(v) / 6)] ?? "" },
          },
          y: {
            position: "right", min: -1.812, max: 2.283, afterFit: fixAxis(61, null),
            grid: { drawOnChartArea: false, color: "#fff", tickLength: 6, tickColor: "#fff" }, border: { color: "#fff", width: 1 },
            ticks: { stepSize: 0.5, includeBounds: false, autoSkip: false, color: "#f0f0f0", font: { size: 11 }, padding: 2, callback: (v: any) => String(Number(v)) },
          },
        },
      } as any,
    });
    return () => { top.destroy(); bot.destroy(); };
  }, []);

  const abs = (l: number, t: number, w: number, h: number, s: any = {}): any => ({ position: "absolute", left: l, top: t, width: w, height: h, ...s });
  const ui = { fontFamily: '"Noto Sans", "Open Sans", sans-serif', fontSize: 11.5, color: "#222", whiteSpace: "nowrap", lineHeight: "16px" };
  const icon = (l: number, w: number, body: any) => <svg style={abs(l, 23, w, 17)} viewBox={`0 0 ${w} 17`}>{body}</svg>;
  const caret = (l: number) => <div style={abs(l, 30, 0, 0, { borderLeft: "3px solid transparent", borderRight: "3px solid transparent", borderTop: "3px solid #222" })} />;
  const winBtn = (l: number, a: string, b: string, e: string, glyph: any) => <div style={abs(l, 3, 27, 13, { background: `linear-gradient(${a},${b})`, border: `1px solid ${e}`, borderRadius: 3, boxSizing: "border-box", textAlign: "center", color: "#fff", fontFamily: FONT, fontSize: 10, fontWeight: "bold", lineHeight: "11px" })}>{glyph}</div>;
  return (
    <div style={abs(0, 0, 1928, 1080, { background: "#000", overflow: "hidden" })}>
      <div style={abs(0, 0, 1928, 19, { background: "linear-gradient(#7f95ad,#a9c0d8 25%,#c5d8ea)" })} />
      <div style={abs(0, 0, 8, 40, { background: "#202020" })} />
      <svg style={abs(12, 3, 14, 13)} viewBox="0 0 14 13"><rect x="0.5" y="0.5" width="13" height="12" fill="#dfe9f5" stroke="#667" /><path d="M1 10 L5 5 L8 7 L13 2" stroke="#2a8a4a" fill="none" /></svg>
      <div style={abs(34, 1, 220, 16, ui)}>ES 12-10 (2584 Tick)&nbsp; 10/7/2010</div>
      <div style={abs(1820, 3, 13, 13, { ...ui, background: "#eee", border: "2px solid #999", boxSizing: "border-box", textAlign: "center", lineHeight: "10px", fontSize: 10 })}>L</div>
      {winBtn(1839, "#d8e6f3", "#a9c2da", "#5a7088", <span style={{ display: "inline-block", width: 11, height: 2, background: "#eee", border: "1px solid #667", verticalAlign: "middle" }} />)}
      {winBtn(1869, "#d8e6f3", "#a9c2da", "#5a7088", <span style={{ display: "inline-block", width: 8, height: 6, border: "1px solid #445", verticalAlign: "middle" }} />)}
      {winBtn(1899, "#e8988a", "#c0402e", "#7a3028", "X")}
      <div style={abs(8, 19, 1920, 26, { background: "linear-gradient(#f6f7f9,#ffffff)" })} />
      <div style={abs(0, 52, 7, 22, { background: "#f0f0f0", borderRadius: "0 0 3px 0" })} />
      <div style={abs(28, 24, 50, 16, ui)}>ES 12-10</div>{caret(78)}
      <div style={abs(91, 24, 60, 16, ui)}>2584 Tick</div>{caret(147)}
      <div style={abs(20, 23, 1, 17, { background: "#bbb" })} /><div style={abs(160, 23, 1, 17, { background: "#bbb" })} /><div style={abs(269, 23, 1, 17, { background: "#bbb" })} /><div style={abs(327, 23, 1, 17, { background: "#bbb" })} />
      {icon(165, 14, <path d="M2 1V16M7 1V16M12 1V16M0 6H4M5 10H9M10 5H14" stroke="#111" strokeWidth="2" fill="none" />)}{caret(181)}
      {icon(194, 14, <path d="M1 16L3 11L11 1L14 3L5 14Z" fill="#f0c830" stroke="#a07010" />)}{caret(211)}
      {icon(224, 16, <g><circle cx="6" cy="10" r="5" fill="#a8c4dc" stroke="#778" /><path d="M2 16L4 13" stroke="#555" strokeWidth="2" /><path d="M12 1V7M9 4H15" stroke="#1a9a3a" strokeWidth="2" /></g>)}
      {icon(246, 16, <g><circle cx="6" cy="10" r="5" fill="#d0d0d0" stroke="#aaa" /><path d="M2 16L4 13" stroke="#aaa" strokeWidth="2" /><path d="M9 4H15" stroke="#bbb" strokeWidth="2" /></g>)}
      {icon(275, 15, <path d="M7 1V6M7 10V16M0 8H5M9 8H15" stroke="#111" strokeWidth="1.6" />)}{caret(292)}
      {icon(304, 15, <g><rect x="0.5" y="0.5" width="14" height="16" fill="#eef3f7" stroke="#999" /><circle cx="8" cy="7" r="4" fill="#a8c4dc" stroke="#778" /><path d="M2 14L5 10" stroke="#667" strokeWidth="2" /></g>)}
      {icon(333, 16, <g><rect x="1" y="1" width="7" height="3" fill="#4a9a4a" /><rect x="1" y="7" width="8" height="3" fill="#d83030" /><rect x="10" y="6" width="3" height="10" fill="#d83030" /><rect x="13" y="10" width="2" height="6" fill="#4a9a4a" /></g>)}
      {icon(356, 16, <g><rect x="0.5" y="0.5" width="15" height="16" fill="#c8c8b0" stroke="#888" /><rect x="3" y="4" width="3" height="9" fill="#1a9a2a" /><rect x="7" y="2" width="3" height="11" fill="#1a9a2a" /><rect x="11" y="4" width="3" height="10" fill="#c83030" /></g>)}
      {icon(379, 16, <g><rect x="0.5" y="0.5" width="15" height="16" fill="#dcdcdc" stroke="#999" /><path d="M1 9L5 5L9 9L14 6" stroke="#d04040" fill="none" /><path d="M1 12L6 9L14 11" stroke="#40a040" fill="none" /></g>)}
      {icon(404, 11, <g><rect x="0.5" y="0.5" width="10" height="16" fill="#f0f6f0" stroke="#999" /><text x="5.5" y="13" fontSize="11" fontWeight="bold" fontFamily="Liberation Sans" textAnchor="middle" fill="#1a7a2a">$</text></g>)}
      {icon(426, 14, <g><rect x="0.5" y="0.5" width="13" height="16" fill="#eef0fa" stroke="#889" /><rect x="1" y="1" width="12" height="3" fill="#7a9ad8" /><rect x="2" y="6" width="3" height="9" fill="#a080d8" /></g>)}
      <canvas ref={topRef} width={1928} height={757} style={abs(0, 46, 1928, 757, { display: "block" })} />
      <canvas ref={botRef} width={1928} height={253} style={abs(0, 803, 1928, 253, { display: "block" })} />
      <div style={abs(9, 802, 1858, 1, { background: "#f4f4f4" })} />
      <div style={abs(0, 806, 8, 1, { background: "#ddd" })} />
      <div style={abs(0, 1032, 6, 24, { background: "#000" })} />
      <div style={abs(0, 1056, 1928, 24, { background: "#f0f0f0" })} />
      <div style={abs(11, 1062, 6, 12, { ...ui, fontSize: 10, lineHeight: "12px" })}>&#9666;</div>
      <div style={abs(1755, 1057, 154, 21, { background: "linear-gradient(#f4f4f4,#d8d8d8)", border: "1px solid #999", borderRadius: 2, boxSizing: "border-box", textAlign: "center", fontSize: 9, lineHeight: "18px", color: "#555" })}>|||</div>
      <div style={abs(1916, 1062, 6, 12, { ...ui, fontSize: 10, lineHeight: "12px" })}>&#9656;</div>
    </div>
  );
}
